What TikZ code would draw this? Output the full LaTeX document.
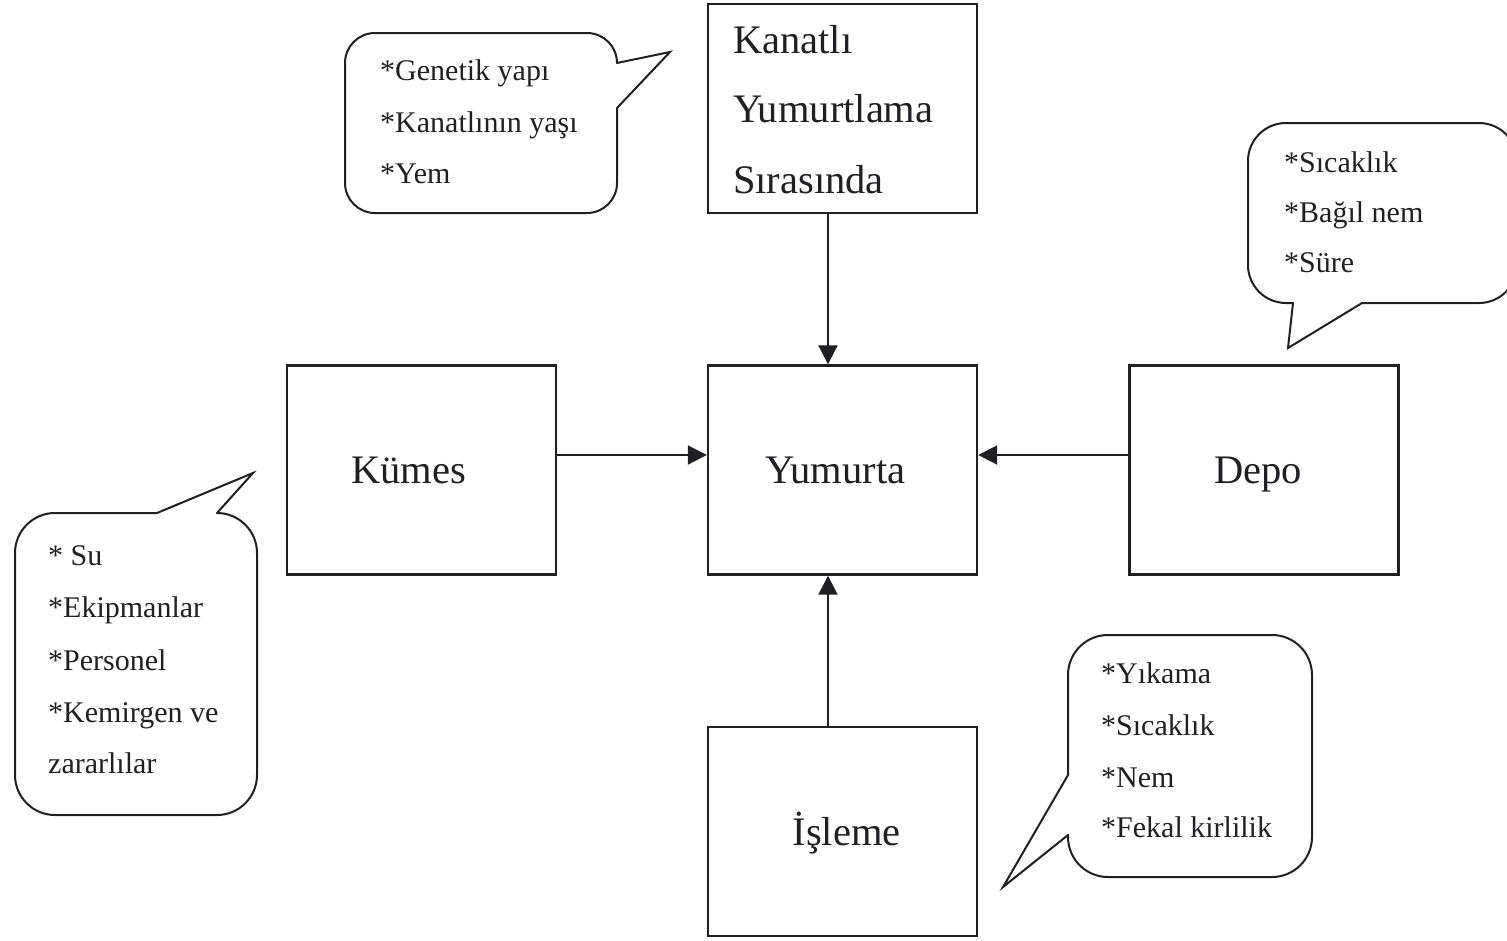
\documentclass[tikz,border=0pt]{standalone}
\usepackage{fontspec}
\setmainfont{Liberation Serif}
\usetikzlibrary{arrows.meta}
\definecolor{ink}{HTML}{1F1F24}
\begin{document}
\begin{tikzpicture}[x=1pt,y=-1pt,
  box/.style={draw=ink, line width=2.4pt, minimum width=269pt, minimum height=209pt,
    inner sep=0pt, font=\fontsize{40.5}{48}\selectfont, text height=27pt, text depth=0pt, text=ink},
  boxline/.style={anchor=base west, inner sep=0pt, font=\fontsize{40.5}{48}\selectfont, text=ink},
  note/.style={anchor=base west, inner sep=0pt, font=\fontsize{30}{36}\selectfont, text=ink},
  bubble/.style={draw=ink, line width=2pt, line cap=round, rounded corners=#1},
  calloutline/.style={draw=ink, line width=2pt, line cap=round, line join=miter},
  flow/.style={draw=ink, line width=2pt, -{Triangle[length=19pt,width=19pt]}}
]
\useasboundingbox (0,0) rectangle (1507,940);

% main boxes
\node[box] (kanatli) at (842.5,108.5) {};
\node[boxline] (k1) at (733,53) {Kanatlı};
\node[boxline] (k2) at (733,122) {Yumurtlama};
\node[boxline] (k3) at (733,193) {Sırasında};
\node[box] (yum) at (842.5,470) {\kern-14pt Yumurta};
\node[box] (kumes) at (421.5,470) {\kern-26pt Kümes};
\node[box] (depo) at (1264,470) {\kern-12pt Depo};
\node[box] (isleme) at (842.5,831.5) {İşleme\kern-8pt};

% flows into the egg
\draw[flow] ([xshift=-14.5pt]kanatli.south) -- ([xshift=-14.5pt]yum.north);
\draw[flow] ([yshift=15pt]kumes.east) -- ([yshift=15pt]yum.west);
\draw[flow] ([yshift=15pt]depo.west) -- ([yshift=15pt]yum.east);
\draw[flow] ([xshift=-14.5pt]isleme.north) -- ([xshift=-14.5pt]yum.south);

% callout: hen factors
\coordinate (ga) at (617,63);
\coordinate (gb) at (617,108);
\coordinate (gt) at (670,52);
\draw[bubble=30pt] (ga) -- (617,33) -- (345,33) -- (345,213) -- (617,213) -- (gb);
\draw[calloutline] (gb) -- (gt) -- (ga);
\node[note] (g1) at (380,80) {*Genetik yapı};
\node[note] (g2) at (380,132) {*Kanatlının yaşı};
\node[note] (g3) at (380,183) {*Yem};

% callout: storage factors
\coordinate (da) at (1293,303);
\coordinate (db) at (1362,303);
\coordinate (dt) at (1288,348);
\begin{scope}
\clip (0,0) rectangle (1507,940);
\draw[bubble=38pt] (db) -- (1517,303) -- (1517,123) -- (1248,123) -- (1248,303) -- (da);
\end{scope}
\draw[calloutline] (da) -- (dt) -- (db);
\node[note] (d1) at (1284,172) {*Sıcaklık};
\node[note] (d2) at (1284,222) {*Bağıl nem};
\node[note] (d3) at (1284,272) {*Süre};

% callout: house factors
\coordinate (ca) at (217,513);
\coordinate (cb) at (157,513);
\coordinate (ct) at (253,473);
\draw[bubble=40pt] (ca) -- (257,513) -- (257,815) -- (15,815) -- (15,513) -- (cb);
\draw[calloutline] (cb) -- (ct) -- (ca);
\node[note] (c1) at (48,565) {* Su};
\node[note] (c2) at (48,617) {*Ekipmanlar};
\node[note] (c3) at (48,670) {*Personel};
\node[note] (c4) at (48,722) {*Kemirgen ve};
\node[note] (c5) at (48,773) {zararlılar};

% callout: processing factors
\coordinate (ia) at (1068,775);
\coordinate (ib) at (1068,835);
\coordinate (it) at (1003,887);
\draw[bubble=40pt] (ia) -- (1068,635) -- (1312,635) -- (1312,877) -- (1068,877) -- (ib);
\draw[calloutline] (ib) -- (it) -- (ia);
\node[note] (i1) at (1101,683) {*Yıkama};
\node[note] (i2) at (1101,735) {*Sıcaklık};
\node[note] (i3) at (1101,787) {*Nem};
\node[note] (i4) at (1101,837) {*Fekal kirlilik};
\end{tikzpicture}
\end{document}
